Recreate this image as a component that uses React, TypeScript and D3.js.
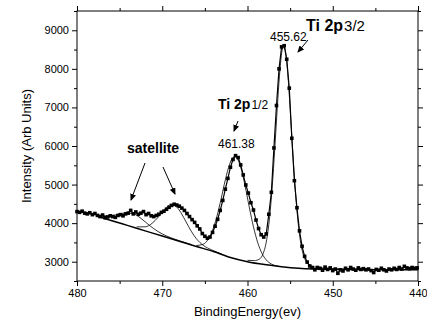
import React, { useEffect, useRef } from "react";
import * as d3 from "d3";

// measured spectrum, one point every 0.3 eV starting at 480 eV
const startEnergy = 480;
const stepEnergy = 0.3;
const intensity = [
  4300, 4280, 4310, 4260, 4240, 4270, 4220, 4250, 4200, 4170,
  4210, 4140, 4160, 4190, 4170, 4150, 4200, 4220, 4190, 4240,
  4260, 4330, 4240, 4290, 4230, 4260, 4300, 4220, 4250, 4190,
  4170, 4200, 4230, 4280, 4310, 4360, 4410, 4460, 4490, 4470,
  4440, 4390, 4330, 4250, 4170, 4090, 4020, 3930, 3850, 3730,
  3660, 3610, 3640, 3760, 3920, 4100, 4330, 4590, 4880, 5160,
  5450, 5650, 5750, 5700, 5510, 5250, 4990, 4780, 4530, 4340,
  4080, 3860, 3700, 3640, 3720, 4230, 4800, 5950, 7050, 8000,
  8570, 8600, 8250, 7500, 6200, 5100, 4400, 3800, 3400, 3140,
  2990, 2890, 2850, 2790, 2850, 2830, 2780, 2860, 2800, 2840,
  2770, 2810, 2700, 2790, 2760, 2830, 2790, 2850, 2810, 2780,
  2840, 2800, 2820, 2790, 2810, 2770, 2720, 2800, 2780, 2830,
  2790, 2760, 2810, 2790, 2830, 2800, 2850, 2810, 2880, 2840,
  2820, 2850, 2830, 2840,
];

// fitted background
const bgEnergy = [477.5, 476, 474, 472, 470, 468, 466, 464, 462, 460, 458, 456, 454, 452, 448, 444, 440];
const bgIntensity = [4170, 4070, 3935, 3800, 3665, 3530, 3395, 3265, 3110, 3000, 2925, 2870, 2830, 2810, 2795, 2790, 2790];

// fitted peaks (each drawn on top of the background)
const sat1Energy = [477.5, 476.5, 475.5, 474.5, 473.5, 472.5, 471.5, 470.5, 469.5, 468, 466.5];
const sat1Intensity = [4206, 4187, 4211, 4258, 4251, 4124, 3941, 3783, 3667, 3544, 3437];

const sat2Energy = [473, 472, 471.2, 470.5, 470, 469.5, 469, 468.7, 468.3, 467.8, 467.2, 466.6, 466, 465.2, 464.2, 463];
const sat2Intensity = [3903, 3905, 3994, 4149, 4286, 4410, 4480, 4478, 4418, 4268, 4029, 3791, 3597, 3427, 3306, 3199];

const p12Energy = [466, 465.2, 464.6, 464.1, 463.6, 463.1, 462.6, 462.1, 461.7, 461.45, 461.2, 460.8, 460.3, 459.8, 459.3, 458.8, 458.3, 457.8, 457.2, 456.4];
const p12Intensity = [3419, 3453, 3585, 3813, 4165, 4626, 5122, 5526, 5707, 5730, 5679, 5452, 4982, 4424, 3905, 3494, 3215, 3046, 2941, 2885];

const p32Energy = [460, 459.2, 458.6, 458.2, 457.8, 457.4, 457.1, 456.8, 456.5, 456.25, 456, 455.75, 455.5, 455.25, 455, 454.7, 454.4, 454.1, 453.7, 453.3, 452.9, 452.3, 451.5, 450, 448];
const p32Intensity = [3036, 3029, 3069, 3192, 3509, 4166, 4944, 5935, 7012, 7826, 8396, 8606, 8389, 7807, 6979, 5888, 4885, 4093, 3419, 3085, 2943, 2871, 2844, 2822, 2806];

const xMajor = [480, 470, 460, 450, 440];
const xMinor = [475, 465, 455, 445];
const yMajor = [3000, 4000, 5000, 6000, 7000, 8000, 9000];
const yMinor = [2500, 3500, 4500, 5500, 6500, 7500, 8500, 9500];

const font = "'Liberation Sans', Arial, sans-serif";

export default function App() {
  const svgRef = useRef(null);

  useEffect(() => {
    const w = 427;
    const h = 324;
    const left = 77, right = 418, top = 11, bottom = 281;

    const svg = d3.select(svgRef.current)
      .attr("width", w)
      .attr("height", h)
      .style("background", "#fff");
    svg.selectAll("*").remove();

    const xScale = d3.scaleLinear().domain([480, 440]).range([left, right]);
    const yScale = d3.scaleLinear().domain([2500, 9500]).range([bottom, top]);

    // arrow head
    svg.append("defs").append("marker")
      .attr("id", "arr")
      .attr("markerUnits", "userSpaceOnUse")
      .attr("markerWidth", 7)
      .attr("markerHeight", 6)
      .attr("refX", 6)
      .attr("refY", 3)
      .attr("orient", "auto")
      .append("path")
      .attr("d", "M0,0 L7,3 L0,6 Z")
      .attr("fill", "#000");

    // axes
    const addAxis = (axis, tf) => {
      const g = svg.append("g")
        .attr("transform", tf)
        .call(axis)
        .attr("font-family", font)
        .attr("font-size", 11);
      g.select(".domain").remove();
      g.selectAll("line").attr("stroke", "#000");
      g.selectAll("text").attr("fill", "#000");
      return g;
    };
    const none = () => "";
    addAxis(d3.axisBottom(xScale).tickValues(xMajor).tickSize(5).tickSizeOuter(0).tickPadding(3).tickFormat(d3.format("d")), `translate(0,${bottom})`);
    addAxis(d3.axisBottom(xScale).tickValues(xMinor).tickSize(3).tickSizeOuter(0).tickFormat(none), `translate(0,${bottom})`);
    addAxis(d3.axisTop(xScale).tickValues(xMajor).tickSize(5).tickSizeOuter(0).tickFormat(none), `translate(0,${top})`);
    addAxis(d3.axisTop(xScale).tickValues(xMinor).tickSize(3).tickSizeOuter(0).tickFormat(none), `translate(0,${top})`);
    addAxis(d3.axisLeft(yScale).tickValues(yMajor).tickSize(5).tickSizeOuter(0).tickPadding(3).tickFormat(d3.format("d")), `translate(${left},0)`);
    addAxis(d3.axisLeft(yScale).tickValues(yMinor).tickSize(3).tickSizeOuter(0).tickFormat(none), `translate(${left},0)`);
    addAxis(d3.axisRight(yScale).tickValues(yMajor).tickSize(5).tickSizeOuter(0).tickFormat(none), `translate(${right},0)`);
    addAxis(d3.axisRight(yScale).tickValues(yMinor).tickSize(3).tickSizeOuter(0).tickFormat(none), `translate(${right},0)`);

    svg.append("rect")
      .attr("x", left)
      .attr("y", top)
      .attr("width", right - left)
      .attr("height", bottom - top)
      .attr("fill", "none")
      .attr("stroke", "#000")
      .attr("stroke-width", 1);

    const smooth = d3.line()
      .x(d => xScale(d[0]))
      .y(d => yScale(d[1]))
      .curve(d3.curveMonotoneX);

    const zip = (es, is) => es.map((e, i) => [e, is[i]]);

    // fitted components
    [
      [sat1Energy, sat1Intensity],
      [sat2Energy, sat2Intensity],
      [p12Energy, p12Intensity],
      [p32Energy, p32Intensity],
    ].forEach(([es, is]) => {
      svg.append("path")
        .attr("d", smooth(zip(es, is)))
        .attr("fill", "none")
        .attr("stroke", "#000")
        .attr("stroke-width", 0.8);
    });

    svg.append("path")
      .attr("d", smooth(zip(bgEnergy, bgIntensity)))
      .attr("fill", "none")
      .attr("stroke", "#000")
      .attr("stroke-width", 1.5);

    // measured data: line + square symbols
    const points = intensity.map((v, i) => [startEnergy - i * stepEnergy, v]);
    const dataLine = d3.line()
      .x(d => xScale(d[0]))
      .y(d => yScale(d[1]));
    svg.append("path")
      .attr("d", dataLine(points))
      .attr("fill", "none")
      .attr("stroke", "#000")
      .attr("stroke-width", 1.2);
    svg.append("g")
      .selectAll("rect")
      .data(points)
      .join("rect")
      .attr("x", d => xScale(d[0]) - 1.8)
      .attr("y", d => yScale(d[1]) - 1.8)
      .attr("width", 3.6)
      .attr("height", 3.6)
      .attr("fill", "#000");

    // axis titles
    svg.append("text")
      .attr("transform", `translate(31,${(top + bottom) / 2}) rotate(-90)`)
      .attr("text-anchor", "middle")
      .attr("font-family", font)
      .attr("font-size", 13)
      .text("Intensity (Arb Units)");
    svg.append("text")
      .attr("x", (left + right) / 2)
      .attr("y", 316)
      .attr("text-anchor", "middle")
      .attr("font-family", font)
      .attr("font-size", 13)
      .text("BindingEnergy(ev)");

    // annotations
    const label = (x, y, main, sub, size, subSize) => {
      const t = svg.append("text")
        .attr("x", x)
        .attr("y", y)
        .attr("font-family", font);
      t.append("tspan").attr("font-weight", "bold").attr("font-size", size).text(main);
      if (sub) t.append("tspan").attr("font-size", subSize).attr("dx", 1).text(sub);
    };
    label(306, 31, "Ti 2p", "3/2", 16, 15);
    label(218, 109, "Ti 2p", "1/2", 14, 12);
    label(127, 153, "satellite", null, 14, 0);

    svg.append("text")
      .attr("x", 270).attr("y", 41)
      .attr("font-family", font).attr("font-size", 12)
      .text("455.62");
    svg.append("text")
      .attr("x", 218).attr("y", 148)
      .attr("font-family", font).attr("font-size", 12)
      .text("461.38");

    const arrow = (x1, y1, x2, y2) => {
      svg.append("line")
        .attr("x1", x1).attr("y1", y1)
        .attr("x2", x2).attr("y2", y2)
        .attr("stroke", "#000")
        .attr("stroke-width", 1)
        .attr("marker-end", "url(#arr)");
    };
    arrow(308, 40, 298, 52);
    arrow(238, 121, 234, 131);
    arrow(145, 163, 131, 200);
    arrow(163, 167, 175, 194);
  }, []);

  return (
    <div>
      <svg ref={svgRef} style={{ position: "absolute", left: 0, top: 0 }}></svg>
    </div>
  );
}
